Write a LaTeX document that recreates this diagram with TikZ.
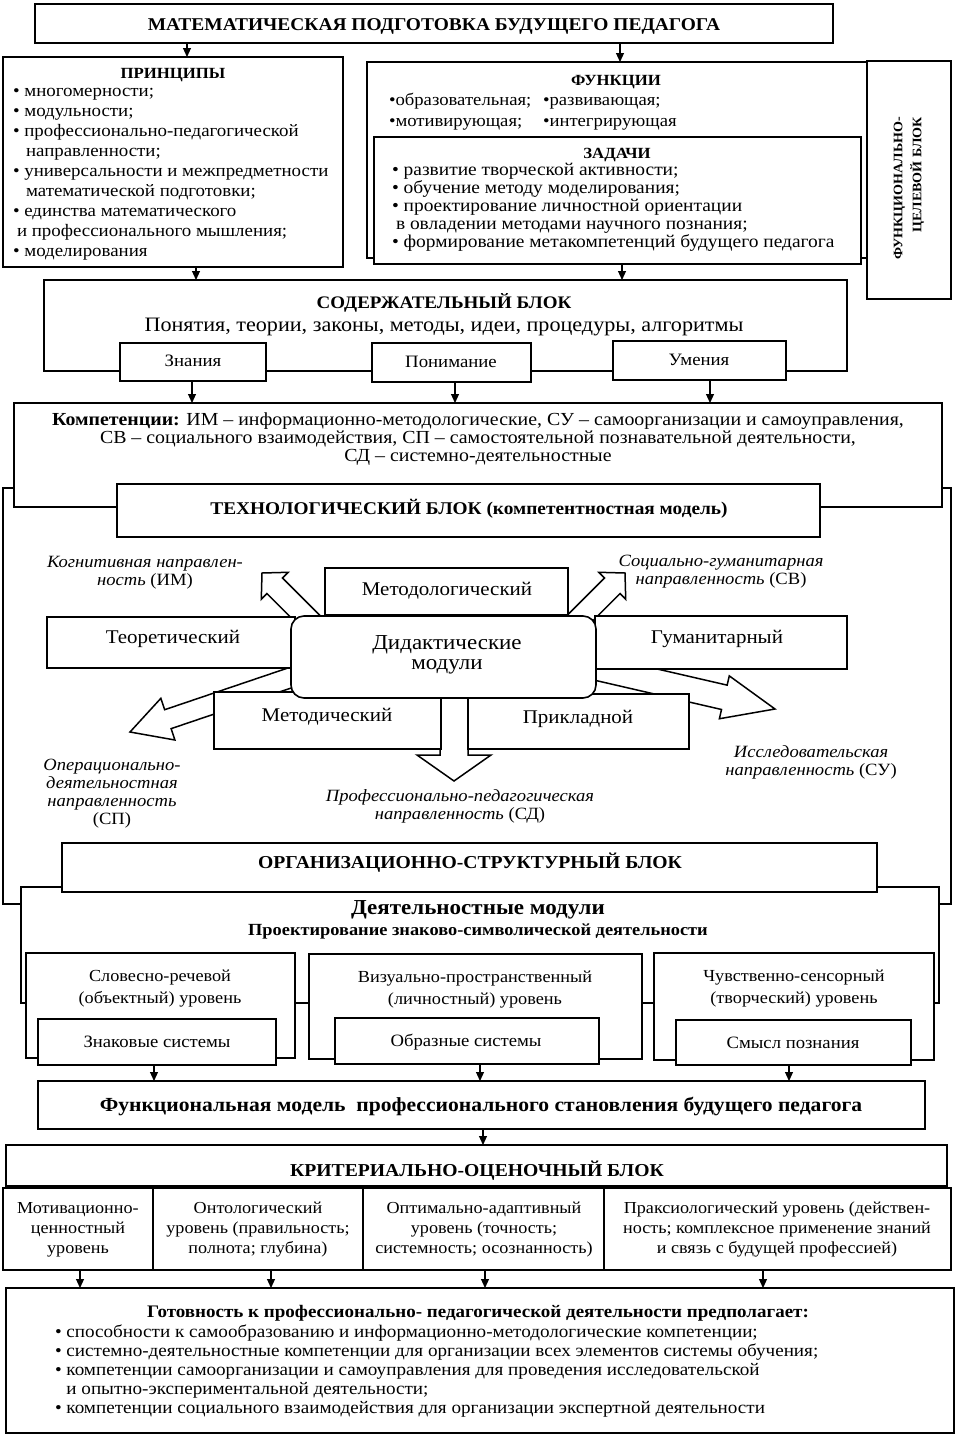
\documentclass[tikz,border=0pt]{standalone}
\usepackage{fontspec}
\setmainfont{Liberation Serif}[FakeStretch=1.08]
\usetikzlibrary{calc,arrows.meta}
\newcommand\fsz[2]{\fontsize{#1}{#2}\selectfont}
\newcommand\ml[2]{\begin{tabular}[t]{@{}#1@{}}#2\end{tabular}}
\newcommand\bx[6][]{\node[box,minimum width={(#5-#3)*1pt},minimum height={(#6-#4)*1pt},#1] (#2) at (#3,#4) {};}
\newcommand\blkarrow[6]{%
  \coordinate (#1-s) at (#2); \coordinate (#1-t) at (#3);
  \coordinate (#1-h) at ($(#1-t)!#6!(#1-s)$);
  \draw[barr] ($(#1-s)!#4!90:(#1-t)$) -- ($(#1-h)!#4!-90:(#1-s)$) -- ($(#1-h)!#5!-90:(#1-s)$) -- (#1-t) -- ($(#1-h)!#5!90:(#1-s)$) -- ($(#1-h)!#4!90:(#1-s)$) -- ($(#1-s)!#4!-90:(#1-t)$) -- cycle;}
\begin{document}
\begin{tikzpicture}[x=1pt,y=-1pt,
  box/.style={draw,line width=1.6pt,fill=white,inner sep=0pt,outer sep=0pt,anchor=north west},
  t/.style={inner sep=0pt,outer sep=0pt,anchor=base},
  tl/.style={inner sep=0pt,outer sep=0pt,anchor=base west},
  arr/.style={-{Triangle[length=9pt,width=8pt]},line width=1.1pt},
  barr/.style={line width=1.5pt,fill=white,line join=miter},
  ttl/.style={font=\bfseries\fsz{18}{20}},
  hd/.style={font=\bfseries\fsz{15.5}{18}},
  lbl/.style={font=\itshape\fsz{17.2}{18}}]
\fill[white] (0,0) rectangle (956,1435);
\useasboundingbox (0,0) rectangle (956,1435);

% ---------- top ----------
\bx{title}{35}{4}{833}{43}
\node[t,ttl] (title-t) at (434,30) {МАТЕМАТИЧЕСКАЯ ПОДГОТОВКА БУДУЩЕГО ПЕДАГОГА};

\bx{princ}{3}{57}{343}{267}
\node[t,hd] (princ-h) at (173,78) {ПРИНЦИПЫ};
\node[tl,font=\fsz{17.5}{20}] (princ-l) at (13,96) {\ml{l}{• многомерности;\\• модульности;\\• профессионально-педагогической\\\hspace*{13pt}направленности;\\• универсальности и межпредметности\\\hspace*{13pt}математической подготовки;\\• единства математического\\\hspace*{4pt}и профессионального мышления;\\• моделирования}};

\bx{func}{367}{62}{867}{258}
\node[t,hd] (func-h) at (616,85) {ФУНКЦИИ};
\node[tl,font=\fsz{17.3}{20}] (fn1) at (389,105) {•образовательная;};
\node[tl,font=\fsz{17.3}{20}] (fn2) at (543,105) {•развивающая;};
\node[tl,font=\fsz{17.3}{20}] (fn3) at (389,126) {•мотивирующая;};
\node[tl,font=\fsz{17.3}{20}] (fn4) at (543,126) {•интегрирующая};

\bx{task}{374}{137}{861}{264}
\node[t,hd] (task-h) at (617,158) {ЗАДАЧИ};
\node[tl,font=\fsz{18}{18}] (task-l) at (392,175) {\ml{l}{• развитие творческой активности;\\• обучение методу моделирования;\\• проектирование личностной ориентации\\\hspace*{4pt}в овладении методами научного познания;\\• формирование метакомпетенций будущего педагога}};

\bx{fcblk}{867}{61}{951}{299}
\node[inner sep=0pt,rotate=90,anchor=east,align=right,font=\bfseries\fsz{13}{19}] (fcblk-t) at (909,117) {ФУНКЦИОНАЛЬНО-\\ЦЕЛЕВОЙ БЛОК};

\coordinate (xa1) at (187,0); \coordinate (xa2) at (620,0);
\coordinate (xa3) at (196,0); \coordinate (xa4) at (622,0);
\draw[arr] (title.south -| xa1) -- (princ.north -| xa1);
\draw[arr] (title.south -| xa2) -- (func.north -| xa2);

% ---------- content block ----------
\bx{cont}{44}{280}{847}{371}
\draw[arr] (princ.south -| xa3) -- (cont.north -| xa3);
\draw[arr] (task.south -| xa4) -- (cont.north -| xa4);
\node[t,font=\bfseries\fsz{17.6}{20}] (cont-h) at (444,308) {СОДЕРЖАТЕЛЬНЫЙ БЛОК};
\node[t,font=\fsz{20.5}{22}] (cont-t) at (444,331) {Понятия, теории, законы, методы, идеи, процедуры, алгоритмы};
\bx{zn}{120}{343}{266}{381}
\bx{pon}{372}{343}{531}{382}
\bx{um}{613}{341}{786}{380}
\node[t,font=\fsz{17.4}{20}] (zn-t) at (193,366) {Знания};
\node[t,font=\fsz{17.4}{20}] (pon-t) at (451,367) {Понимание};
\node[t,font=\fsz{17.4}{20}] (um-t) at (699,365) {Умения};

% ---------- technological block ----------
\bx{tech}{3}{488}{951}{904}
\bx{comp}{14}{403}{942}{507}
\coordinate (xb1) at (192,0); \coordinate (xb2) at (455,0); \coordinate (xb3) at (710,0);
\draw[arr] (zn.south -| xb1) -- (comp.north -| xb1);
\draw[arr] (pon.south -| xb2) -- (comp.north -| xb2);
\draw[arr] (um.south -| xb3) -- (comp.north -| xb3);
\node[t,font=\fsz{18.4}{18}] (comp-t) at (478,425) {\ml{c}{\textbf{Компетенции:} ИМ – информационно-методологические, СУ – самоорганизации и самоуправления,\\СВ – социального взаимодействия, СП – самостоятельной познавательной деятельности,\\СД – системно-деятельностные}};
\bx{techt}{117}{484}{820}{537}
\node[t,font=\bfseries\fsz{17.9}{20}] (techt-t) at (469,514) {ТЕХНОЛОГИЧЕСКИЙ БЛОК (компетентностная модель)};

% block arrows
\blkarrow{ul}{330,641}{262,573}{11pt}{19pt}{18pt}
\blkarrow{ur}{557,641}{625,573}{11pt}{19pt}{18pt}
\blkarrow{ll}{319,668}{130,732}{10pt}{22pt}{40pt}
\blkarrow{lr}{580,664}{775,709}{12.5pt}{22pt}{52pt}
\blkarrow{dn}{454,680}{454,781}{14pt}{37pt}{26pt}

\bx{mlog}{325}{568}{568}{615}
\bx{theo}{47}{617}{295}{668}
\bx{hum}{595}{616}{847}{669}
\bx{mth}{214}{692}{441}{749}
\bx{app}{468}{694}{689}{749}
\bx[rounded corners=13pt]{did}{291}{616}{596}{698}
\node[t,font=\fsz{19.4}{20}] (mlog-t) at (447,595) {Методологический};
\node[t,font=\fsz{19.4}{20}] (theo-t) at (173,643) {Теоретический};
\node[t,font=\fsz{19.4}{20}] (hum-t) at (717,643) {Гуманитарный};
\node[t,font=\fsz{19.4}{20}] (mth-t) at (327,721) {Методический};
\node[t,font=\fsz{19.4}{20}] (app-t) at (578,723) {Прикладной};
\node[t,font=\fsz{21.3}{20}] (did-t) at (447,649) {\ml{c}{Дидактические\\модули}};

\node[t,lbl] (l-im) at (145,567) {\ml{c}{Когнитивная направлен-\\ность \upshape(ИМ)}};
\node[t,lbl] (l-sv) at (721,566) {\ml{c}{Социально-гуманитарная\\направленность \upshape(СВ)}};
\node[t,lbl] (l-sp) at (112,770) {\ml{c}{Операционально-\\деятельностная\\направленность\\\upshape(СП)}};
\node[t,lbl] (l-sd) at (460,801) {\ml{c}{Профессионально-педагогическая\\направленность \upshape(СД)}};
\node[t,lbl] (l-su) at (811,757) {\ml{c}{Исследовательская\\направленность \upshape(СУ)}};

% ---------- organisational block ----------
\bx{mods}{21}{887}{939}{1003}
\bx{orgt}{62}{843}{877}{892}
\node[t,font=\bfseries\fsz{18.2}{20}] (orgt-t) at (470,868) {ОРГАНИЗАЦИОННО-СТРУКТУРНЫЙ БЛОК};
\node[t,font=\bfseries\fsz{21.3}{22}] (mods-h) at (478,914) {Деятельностные модули};
\node[t,font=\bfseries\fsz{17}{20}] (mods-s) at (478,935) {Проектирование знаково-символической деятельности};

\bx{lv1}{26}{953}{295}{1058}
\bx{lv2}{309}{954}{642}{1059}
\bx{lv3}{654}{953}{934}{1060}
\node[t,font=\fsz{16.9}{22}] (lv1-t) at (160,981) {\ml{c}{Словесно-речевой\\(объектный) уровень}};
\node[t,font=\fsz{16.9}{22}] (lv2-t) at (475,982) {\ml{c}{Визуально-пространственный\\(личностный) уровень}};
\node[t,font=\fsz{16.9}{22}] (lv3-t) at (794,981) {\ml{c}{Чувственно-сенсорный\\(творческий) уровень}};
\bx{in1}{38}{1019}{276}{1065}
\bx{in2}{335}{1018}{599}{1064}
\bx{in3}{676}{1020}{911}{1065}
\node[t,font=\fsz{17.3}{20}] (in1-t) at (157,1047) {Знаковые системы};
\node[t,font=\fsz{17.3}{20}] (in2-t) at (466,1046) {Образные системы};
\node[t,font=\fsz{17.3}{20}] (in3-t) at (793,1048) {Смысл познания};

\bx{fm}{38}{1081}{925}{1129}
\node[t,font=\bfseries\fsz{20}{20}] (fm-t) at (481,1111) {Функциональная модель\ \ профессионального становления будущего педагога};
\coordinate (xc1) at (154,0); \coordinate (xc2) at (480,0); \coordinate (xc3) at (789,0);
\draw[arr] (in1.south -| xc1) -- (fm.north -| xc1);
\draw[arr] (in2.south -| xc2) -- (fm.north -| xc2);
\draw[arr] (in3.south -| xc3) -- (fm.north -| xc3);

% ---------- criteria block ----------
\bx{crit}{6}{1145}{947}{1186}
\coordinate (xd0) at (483,0);
\draw[arr] (fm.south -| xd0) -- (crit.north -| xd0);
\node[t,font=\bfseries\fsz{18.2}{20}] (crit-t) at (477,1176) {КРИТЕРИАЛЬНО-ОЦЕНОЧНЫЙ БЛОК};
\bx{c1}{3}{1188}{153}{1270}
\bx{c2}{153}{1188}{363}{1270}
\bx{c3}{363}{1188}{604}{1270}
\bx{c4}{604}{1188}{951}{1270}
\node[t,font=\fsz{16.8}{20}] (c1-t) at (78,1213) {\ml{c}{Мотивационно-\\ценностный\\уровень}};
\node[t,font=\fsz{16.8}{20}] (c2-t) at (258,1213) {\ml{c}{Онтологический\\уровень (правильность;\\полнота; глубина)}};
\node[t,font=\fsz{16.8}{20}] (c3-t) at (484,1213) {\ml{c}{Оптимально-адаптивный\\уровень (точность;\\системность; осознанность)}};
\node[t,font=\fsz{16.8}{20}] (c4-t) at (777,1213) {\ml{c}{Праксиологический уровень (действен-\\ность; комплексное применение знаний\\и связь с будущей профессией)}};

\bx{ready}{6}{1288}{954}{1433}
\coordinate (xe1) at (80,0); \coordinate (xe2) at (271,0); \coordinate (xe3) at (485,0); \coordinate (xe4) at (763,0);
\draw[arr] (c1.south -| xe1) -- (ready.north -| xe1);
\draw[arr] (c2.south -| xe2) -- (ready.north -| xe2);
\draw[arr] (c3.south -| xe3) -- (ready.north -| xe3);
\draw[arr] (c4.south -| xe4) -- (ready.north -| xe4);
\node[t,font=\bfseries\fsz{17.6}{20}] (ready-h) at (478,1317) {Готовность к профессионально- педагогической деятельности предполагает:};
\node[tl,font=\fsz{17.7}{19}] (ready-l) at (55,1337) {\ml{l}{• способности к самообразованию и информационно-методологические компетенции;\\• системно-деятельностные компетенции для организации всех элементов системы обучения;\\• компетенции самоорганизации и самоуправления для проведения исследовательской\\\phantom{• }и опытно-экспериментальной деятельности;\\• компетенции социального взаимодействия для организации экспертной деятельности}};
\end{tikzpicture}
\end{document}
